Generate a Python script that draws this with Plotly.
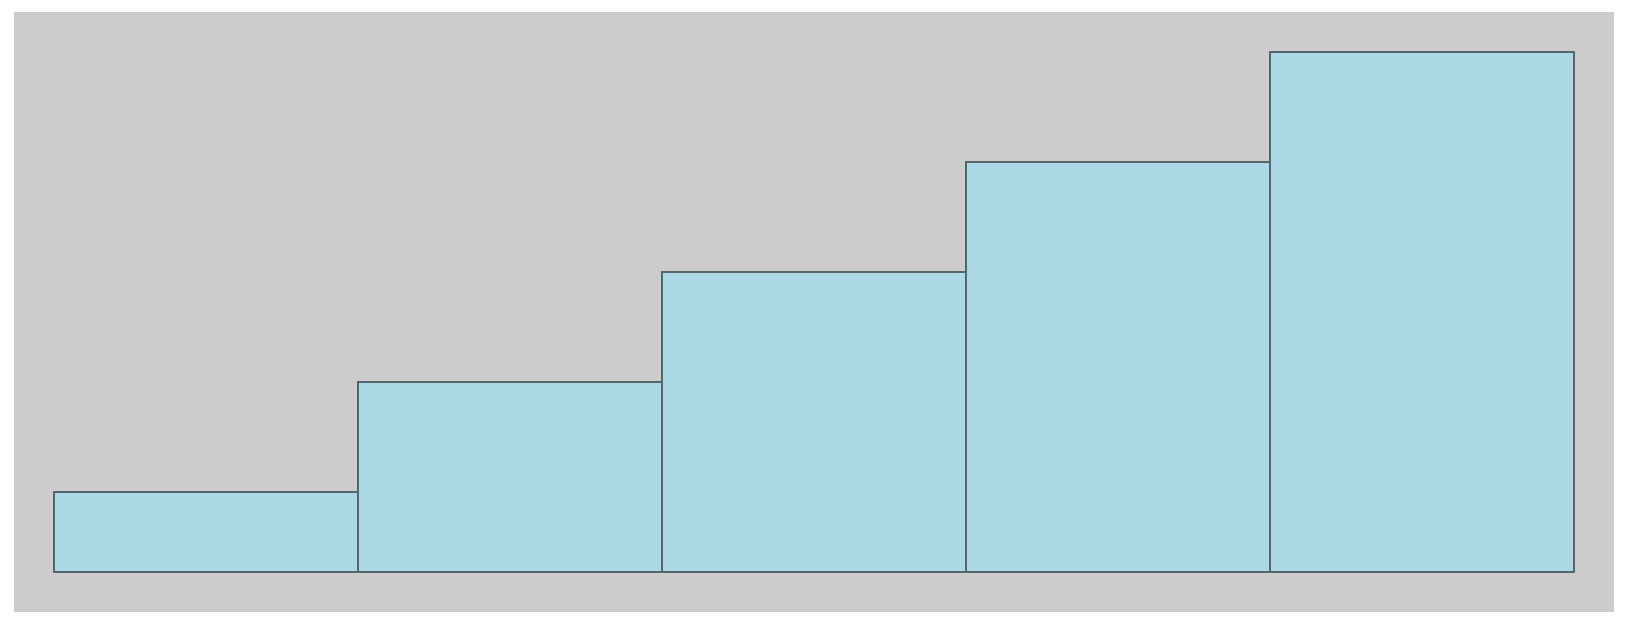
import plotly.graph_objects as go

categories = ["A", "B", "C", "D", "E"]
values = [8, 19, 30, 41, 52]

fig = go.Figure(
    go.Bar(
        x=categories,
        y=values,
        marker=dict(color="#add8e6", line=dict(color="#55666d", width=2)),
        hoverinfo="skip",
    )
)

plot_w, plot_h = 1522, 522
xpad = 5 / 1520
ypad = 52 / 520

fig.update_layout(
    width=1616,
    height=616,
    margin=dict(l=45, r=49, t=43, b=51),
    paper_bgcolor="white",
    plot_bgcolor="rgba(0,0,0,0)",
    bargap=0,
    showlegend=False,
    xaxis=dict(visible=False, range=[-0.5 - xpad, 4.5 + xpad]),
    yaxis=dict(visible=False, range=[-ypad, 52 + ypad]),
    shapes=[
        dict(
            type="rect",
            xref="paper",
            yref="paper",
            x0=(14 - 53) / plot_w,
            x1=(1614 - 53) / plot_w,
            y0=(573 - 612) / plot_h,
            y1=(573 - 12) / plot_h,
            fillcolor="#cccccc",
            line=dict(width=0),
            layer="below",
        )
    ],
)
fig.write_html("out.html", config={"displayModeBar": False})
